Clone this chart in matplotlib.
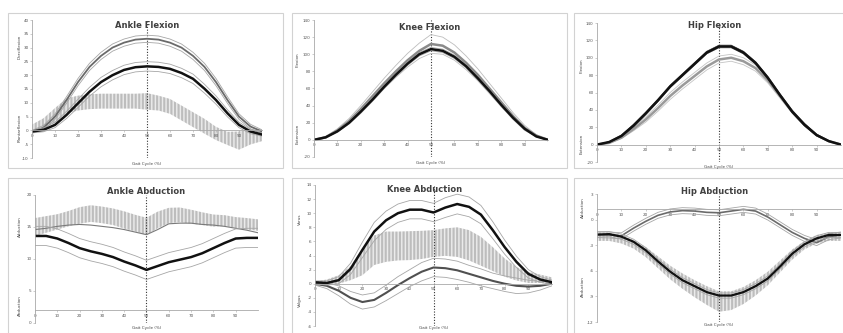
import matplotlib.pyplot as plt
from matplotlib.patches import Rectangle

W, H = 843, 333
plt.rcParams['font.family'] = 'DejaVu Sans'
plt.rcParams['hatch.linewidth'] = 0.4
plt.rcParams['axes.unicode_minus'] = False

# gait cycle (%) sample points
gait = [0, 5, 10, 15, 20, 25, 30, 35, 40, 45, 50, 55, 60, 65, 70, 75, 80, 85, 90, 95, 100]

# ankle flexion
af_gray = [-0.5, 1.0, 5, 11, 17.5, 23, 27, 30, 31.8, 32.9, 33.2, 32.9, 31.8, 30, 27, 23, 17.5, 11, 5, 1.4, -0.4]
af_gray_sd = [0.5, 0.8, 1.0, 1.2, 1.3, 1.3, 1.3, 1.3, 1.3, 1.3, 1.3, 1.3, 1.3, 1.3, 1.3, 1.3, 1.3, 1.2, 1.0, 0.8, 0.6]
af_black = [-0.4, 0.2, 2, 5.6, 9.8, 14, 17.5, 20, 21.9, 22.9, 23.2, 23, 22.3, 20.8, 18.7, 15.1, 11, 6.2, 2, -0.4, -1.5]
af_black_sd = [0.5, 0.7, 1.0, 1.3, 1.5, 1.6, 1.7, 1.7, 1.7, 1.7, 1.7, 1.7, 1.7, 1.7, 1.7, 1.6, 1.5, 1.3, 1.0, 0.8, 0.6]
af_hatch = [0.6, 2.6, 5.4, 8.9, 9.9, 10.4, 10.6, 10.6, 10.6, 10.6, 10.5, 9.9, 8.7, 6.3, 3.9, 1.5, -1.1, -2.9, -3.7, -2.4, -1.8]
af_hatch_sd = [1.5, 1.8, 2.7, 2.7, 2.7, 2.7, 2.7, 2.7, 2.7, 2.7, 3.0, 2.7, 2.7, 2.7, 2.7, 2.7, 2.4, 2.4, 3.3, 2.7, 2.1]

# knee flexion
kf_black = [0, 3, 10, 20, 33, 47, 62, 76, 89, 100, 106, 104, 97, 86, 72, 57, 41, 26, 13, 4, 0]
kf_black_sd = [0, 0.5, 1, 1.5, 2, 2, 2, 2, 2, 2, 2, 2, 2, 2, 2, 2, 2, 1.5, 1, 0.5, 0]
kf_gray = [0, 3, 11, 22, 36, 51, 66, 80, 93, 104, 112, 110, 102, 90, 76, 60, 44, 28, 14, 5, 0]
kf_gray_sd = [0, 1, 2, 3, 4, 5, 6, 7, 8, 9, 11, 10, 9, 8, 7, 6, 5, 4, 3, 1, 0]

# hip flexion
hf_black = [0, 3, 10, 22, 36, 51, 67, 80, 93, 106, 113, 113, 106, 94, 77, 57, 38, 23, 11, 4, 0]
hf_black_sd = [0, 0.5, 1, 1.5, 1.5, 1.5, 1.5, 1.5, 1.5, 1.5, 1.5, 1.5, 1.5, 1.5, 1.5, 1.5, 1.5, 1.5, 1, 0.5, 0]
hf_gray = [0, 2, 8, 18, 29, 42, 56, 68, 79, 90, 98, 100, 96, 88, 74, 56, 38, 23, 11, 4, 0]
hf_gray_sd = [0, 0.5, 1, 2, 3, 3.5, 4, 4, 4, 4, 4, 4, 4, 3.5, 3, 2.5, 2, 1.5, 1, 0.5, 0]

# ankle abduction
aa_hatch = [15.0, 15.4, 15.8, 16.3, 16.8, 17.1, 16.9, 16.6, 16.1, 15.6, 15.1, 16.1, 16.8, 16.9, 16.6, 16.3, 16.0, 16.0, 15.7, 15.5, 15.3]
aa_hatch_sd = [1.4, 1.3, 1.2, 1.2, 1.3, 1.3, 1.3, 1.3, 1.35, 1.3, 1.35, 1.3, 1.2, 1.15, 1.1, 1.0, 0.95, 0.85, 0.85, 0.9, 0.9]
aa_gray = [14.6, 14.8, 15.1, 15.3, 15.4, 15.3, 15.1, 14.9, 14.6, 14.2, 13.8, 14.6, 15.5, 15.6, 15.6, 15.4, 15.3, 15.1, 14.8, 14.5, 14.1]
aa_black = [13.6, 13.6, 13.2, 12.5, 11.7, 11.2, 10.8, 10.3, 9.6, 9.0, 8.3, 8.9, 9.5, 9.9, 10.3, 10.9, 11.7, 12.5, 13.2, 13.3, 13.3]
aa_black_sd = [1.5] * 21

# knee abduction
ka_black = [0.2, 0.1, 0.5, 2.1, 4.8, 7.4, 9.0, 10.0, 10.5, 10.5, 10.1, 10.8, 11.3, 10.9, 9.8, 7.6, 5.2, 3.1, 1.4, 0.6, 0.2]
ka_black_sd = [0.2, 0.3, 0.5, 0.8, 1.1, 1.3, 1.3, 1.3, 1.3, 1.3, 1.3, 1.4, 1.4, 1.4, 1.3, 1.2, 1.0, 0.8, 0.6, 0.4, 0.3]
ka_hatch = [0, 0.2, 0.6, 1.5, 3.1, 4.75, 5.25, 5.35, 5.4, 5.5, 5.7, 5.9, 5.9, 5.45, 4.6, 3.5, 2.3, 1.4, 0.9, 0.7, 0.4]
ka_hatch_sd = [0.3, 0.4, 0.6, 1.0, 1.9, 2.1, 2.15, 2.05, 2.05, 2.0, 1.9, 1.95, 2.1, 2.15, 2.05, 1.7, 1.3, 0.95, 0.8, 0.6, 0.5]
ka_gray = [0, -0.3, -1.0, -2.0, -2.6, -2.3, -1.3, -0.2, 0.8, 1.7, 2.3, 2.2, 1.9, 1.4, 0.9, 0.4, 0.0, -0.3, -0.4, -0.3, 0]
ka_gray_sd = [0.2, 0.4, 0.7, 0.9, 1.0, 1.0, 1.1, 1.2, 1.2, 1.3, 1.3, 1.3, 1.3, 1.2, 1.2, 1.1, 1.1, 1.1, 0.9, 0.6, 0.3]

# hip abduction
ha_black = [-1.76, -1.7, -2.0, -2.6, -3.6, -4.9, -6.1, -7.1, -7.8, -8.5, -8.9, -8.9, -8.5, -7.8, -6.9, -5.5, -4.0, -2.9, -2.2, -1.8, -1.8]
ha_black_sd = [0.3] * 21
ha_hatch = [-2.0, -2.0, -2.3, -2.9, -3.8, -5.0, -6.2, -7.2, -8.1, -8.9, -9.6, -9.5, -8.9, -8.0, -6.9, -5.5, -4.1, -3.0, -2.3, -2.0, -2.0]
ha_hatch_sd = [0.5, 0.5, 0.5, 0.5, 0.6, 0.7, 0.8, 0.9, 1.0, 1.1, 1.2, 1.1, 1.0, 0.9, 0.8, 0.7, 0.6, 0.5, 0.5, 0.5, 0.5]
ha_gray = [-1.76, -1.8, -1.9, -1.0, -0.2, 0.5, 0.9, 1.05, 1.0, 0.85, 0.8, 1.0, 1.2, 1.0, 0.3, -0.6, -1.5, -2.2, -2.7, -2.0, -1.8]
ha_gray_sd = [0.35] * 21

fig = plt.figure(figsize=(W / 100, H / 100), dpi=100)


def box(x0, y0, x1, y1):
    fig.patches.append(Rectangle((x0 / W, 1 - y1 / H), (x1 - x0) / W, (y1 - y0) / H,
                                 transform=fig.transFigure, fill=False, ec='#d2d2d2', lw=0.8))


def ftext(x, y, s, **kw):
    fig.text(x / W, 1 - y / H, s, ha='center', va='center', **kw)


def panel(x0, y0, x1, y1, ylim, yticks, cross):
    ax = fig.add_axes([x0 / W, 1 - y1 / H, (x1 - x0) / W, (y1 - y0) / H])
    ax.patch.set_alpha(0)
    ax.set_xlim(0, 100)
    ax.set_ylim(*ylim)
    ax.spines['top'].set_visible(False)
    ax.spines['right'].set_visible(False)
    ax.spines['bottom'].set_position(('data', cross))
    for s in ['left', 'bottom']:
        ax.spines[s].set_color('#a8a8a8')
        ax.spines[s].set_linewidth(0.6)
    ax.set_xticks(range(0, 100, 10))
    ax.set_yticks(yticks)
    ax.tick_params(labelsize=3, length=1.5, width=0.4, colors='#a8a8a8', labelcolor='#555555', pad=1)
    ax.axvline(50, color='#333333', ls=(0, (1, 1.5)), lw=0.8)
    return ax


def band(ax, mean, sd, color, lw, sdcolor='#a6a6a6'):
    ax.plot(gait, [m + s for m, s in zip(mean, sd)], color=sdcolor, lw=0.6)
    ax.plot(gait, [m - s for m, s in zip(mean, sd)], color=sdcolor, lw=0.6)
    ax.plot(gait, mean, color=color, lw=lw)


def hatch(ax, mean, sd, color='#8a8a8a'):
    ax.fill_between(gait, [m - s for m, s in zip(mean, sd)], [m + s for m, s in zip(mean, sd)],
                    facecolor='none', edgecolor=color, hatch='|' * 12, lw=0)


# panel frames
for bx in [(8, 13, 283, 168), (292, 13, 567, 168), (574, 13, 845, 168),
           (8, 178, 283, 336), (292, 178, 567, 336), (574, 178, 845, 336)]:
    box(*bx)

# Ankle Flexion
ax = panel(32, 20, 262, 158, (-10, 40), range(-10, 41, 5), 0)
hatch(ax, af_hatch, af_hatch_sd)
band(ax, af_gray, af_gray_sd, '#6a6a6a', 1.3)
band(ax, af_black, af_black_sd, '#111111', 1.8)

# Knee Flexion
ax = panel(314, 20, 548, 157, (-20, 140), range(-20, 141, 20), 0)
band(ax, kf_gray, kf_gray_sd, '#8a8a8a', 1.8, '#bdbdbd')
band(ax, kf_black, kf_black_sd, '#111111', 1.8)

# Hip Flexion
ax = panel(597, 23, 841, 162, (-20, 140), range(-20, 141, 20), 0)
band(ax, hf_gray, hf_gray_sd, '#9a9a9a', 1.8, '#c4c4c4')
band(ax, hf_black, hf_black_sd, '#111111', 1.8, '#555555')

# Ankle Abduction
ax = panel(35, 195, 258, 323, (0, 20), range(0, 21, 5), 2)
hatch(ax, aa_hatch, aa_hatch_sd)
ax.plot(gait, aa_gray, color='#7a7a7a', lw=0.8)
band(ax, aa_black, aa_black_sd, '#111111', 1.8)

# Knee Abduction
ax = panel(315, 185, 552, 326, (-6, 14), range(-6, 15, 2), 0)
hatch(ax, ka_hatch, ka_hatch_sd)
band(ax, ka_gray, ka_gray_sd, '#505050', 1.5)
band(ax, ka_black, ka_black_sd, '#111111', 1.8)

# Hip Abduction
ax = panel(597, 194, 841, 322, (-12, 3), range(-12, 4, 3), 1.2)
hatch(ax, ha_hatch, ha_hatch_sd)
band(ax, ha_gray, ha_gray_sd, '#6a6a6a', 1.2)
band(ax, ha_black, ha_black_sd, '#111111', 1.6)

# titles
tkw = dict(fontsize=6, fontweight='bold', color='#404040')
ftext(147, 25, 'Ankle Flexion', **tkw)
ftext(430, 27, 'Knee Flexion', **tkw)
ftext(715, 26, 'Hip Flexion', **tkw)
ftext(146, 192, 'Ankle Abduction', **tkw)
ftext(425, 189, 'Knee Abduction', **tkw)
ftext(715, 192, 'Hip Abduction', **tkw)

# x axis titles
xkw = dict(fontsize=3, color='#444444')
ftext(147, 164, 'Gait Cycle (%)', **xkw)
ftext(431, 163, 'Gait Cycle (%)', **xkw)
ftext(719, 167, 'Gait Cycle (%)', **xkw)
ftext(147, 328, 'Gait Cycle (%)', **xkw)
ftext(434, 328, 'Gait Cycle (%)', **xkw)
ftext(719, 325, 'Gait Cycle (%)', **xkw)

# y axis side labels
ykw = dict(fontsize=3, color='#444444', rotation=90)
ftext(20, 47, 'Dorsiflexion', **ykw)
ftext(20, 128, 'Plantarflexion', **ykw)
ftext(298, 60, 'Flexion', **ykw)
ftext(298, 134, 'Extension', **ykw)
ftext(582, 66, 'Flexion', **ykw)
ftext(582, 144, 'Extension', **ykw)
ftext(20, 227, 'Adduction', **ykw)
ftext(20, 306, 'Abduction', **ykw)
ftext(300, 219, 'Varus', **ykw)
ftext(300, 300, 'Valgus', **ykw)
ftext(583, 208, 'Adduction', **ykw)
ftext(583, 287, 'Abduction', **ykw)

fig.savefig('out.png', dpi=100)
